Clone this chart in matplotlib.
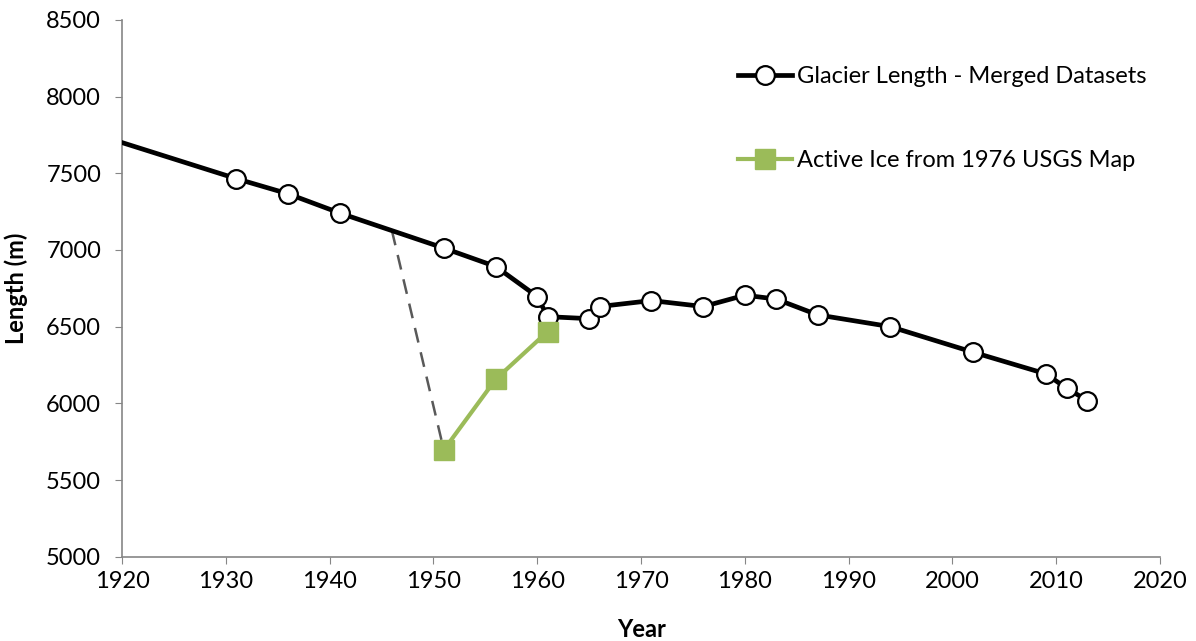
import matplotlib.pyplot as plt

# glacier length, merged datasets
years = [1920, 1931, 1936, 1941, 1951, 1956, 1960, 1961, 1965, 1966, 1971,
         1976, 1980, 1983, 1987, 1994, 2002, 2009, 2011, 2013]
length = [7700, 7465, 7366, 7240, 7012, 6892, 6696, 6565, 6552, 6631, 6670,
          6631, 6705, 6680, 6577, 6500, 6333, 6192, 6098, 6018]

# active ice from 1976 USGS map
ice_years = [1951, 1956, 1961]
ice_length = [5696, 6157, 6468]

# dashed connector
link_years = [1946, 1951]
link_length = [7126, 5696]

plt.rcParams['font.family'] = ['Lato', 'DejaVu Sans']
plt.rcParams['font.size'] = 17

fig = plt.figure(figsize=(11.96, 6.41), dpi=100)
ax = fig.add_axes([0.102, 0.1315, 0.868, 0.8375])

ax.plot(link_years, link_length, color='#595959', lw=1.8, ls=(0, (6, 4)), zorder=2)
ax.plot(years, length, color='black', lw=3.4, marker='o', markersize=13.5,
        markerfacecolor='white', markeredgecolor='black', markeredgewidth=1.6,
        markevery=list(range(1, len(years))), zorder=3,
        label='Glacier Length - Merged Datasets')
ax.plot(ice_years, ice_length, color='#9BBB59', lw=3.0, marker='s',
        markersize=14, zorder=4, label='Active Ice from 1976 USGS Map')

ax.set_xlim(1920, 2020)
ax.set_ylim(5000, 8500)
ax.set_xticks(range(1920, 2021, 10))
ax.set_yticks(range(5000, 8501, 500))

for s in ['top', 'right']:
    ax.spines[s].set_visible(False)
for s in ['left', 'bottom']:
    ax.spines[s].set_color('#868686')
    ax.spines[s].set_linewidth(1.2)
ax.tick_params(axis='x', direction='out', length=5, color='#868686', labelsize=17, pad=5)
ax.tick_params(axis='y', direction='out', length=5, color='#868686', labelsize=17, pad=10)

ax.set_xlabel('Year', fontweight='bold', fontsize=17, labelpad=19)
ax.set_ylabel('Length (m)', fontweight='bold', fontsize=17, labelpad=13)

ax.legend(loc='upper left', bbox_to_anchor=(0.607, 0.915),
          bbox_transform=fig.transFigure, frameon=False, fontsize=17,
          handlelength=2.3, handletextpad=0.2, labelspacing=2.65,
          borderpad=0)

fig.savefig('out.png', dpi=100)
